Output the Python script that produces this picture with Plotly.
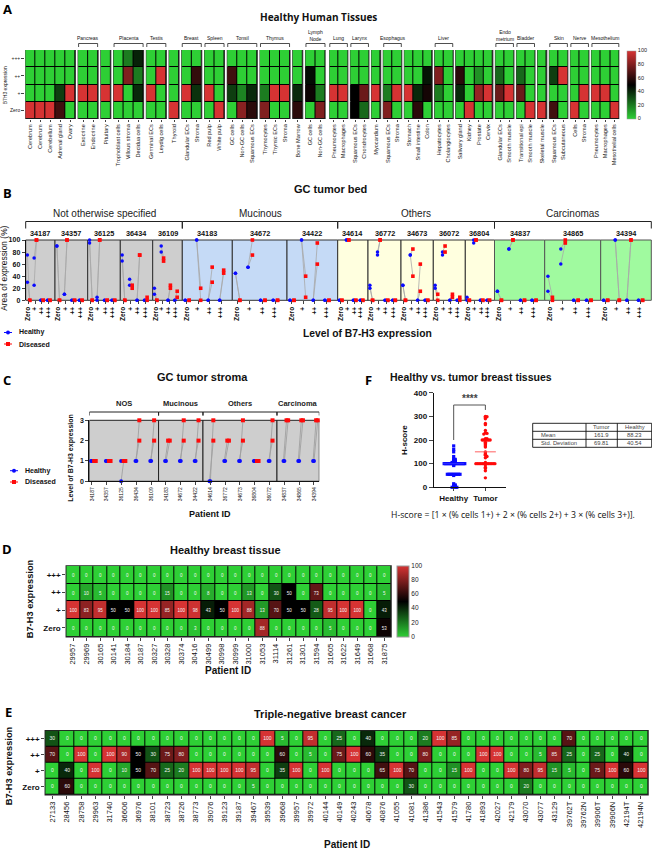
"""B7-H3 expression figure, panels A to F"""
import plotly.graph_objects as go

W, H = 652, 850
SANS = "Liberation Sans"
TITLE_FONT = "Open Sans"
GREEN, RED = "#2ecf35", "#d63333"
BLUE_PT, RED_PT = "#0a0aff", "#ff0a0a"
COLORSCALE = [[0, GREEN], [0.5, "#000000"], [1, RED]]

ROW_LABELS = ["Zero", "+", "++", "+++"]

# Panel A, columns split in two blocks, every group is (bracket label, cell names)
a_left_groups = [
    ("", ["Cerebrum", "Cerebrum", "Cerebellum", "Adrenal gland", "Ovary"]),
    ("Pancreas", ["Exocrine", "Endocrine"]),
    ("", ["Pituitary"]),
    ("Placenta", ["Trophoblast cells", "Villous stroma", "Decidua cells"]),
    ("Testis", ["Germinal ECs", "Leydig cells"]),
    ("", ["Thyroid"]),
    ("Breast", ["Glandular ECs", "Stroma"]),
    ("Spleen", ["Red pulp", "White pulp"]),
    ("Tonsil", ["GC cells", "Non-GC cells", "Squamous ECs"]),
    ("Thymus", ["Thymocytes", "Thymic ECs", "Stroma"]),
    ("", ["Bone Marrow"]),
    ("Lymph<br>Node", ["GC cells", "Non-GC cells"]),
]
a_right_groups = [
    ("Lung", ["Pneumocytes", "Macrophages"]),
    ("Larynx", ["Squamous ECs", "Chondrocytes"]),
    ("", ["Myocardium"]),
    ("Esophagus", ["Squamous ECs", "Stroma"]),
    ("", ["Stomach", "Small intestine", "Colon"]),
    ("Liver", ["Hepatocytes", "Cholangiocytes"]),
    ("", ["Salivary gland", "Kidney", "Prostate", "Cervix"]),
    ("Endo<br>metrium", ["Glandular ECs", "Smooth muscle"]),
    ("Bladder", ["Transitional epi", "Smooth muscle"]),
    ("", ["Skeletal muscle"]),
    ("Skin", ["Squamous ECs", "Subcutaneous"]),
    ("Nerve", ["Cells", "Stroma"]),
    ("Mesothelium", ["Pneumocytes", "Macrophages", "Mesothelial cells"]),
]
a_left_3plus = [0, 0, 0, 0, 0, 0, 0, 0, 0, 20, 42, 0, 0, 0, 0, 0, 0, 0, 0, 0, 0, 0, 0, 0, 0, 0, 0]
a_left_2plus = [0, 0, 0, 0, 0, 0, 0, 0, 0, 80, 20, 0, 100, 0, 0, 62, 0, 0, 65, 0, 0, 0, 0, 0, 0, 47, 0]
a_left_1plus = [0, 0, 0, 35, 100, 100, 100, 100, 100, 0, 40, 100, 0, 0, 100, 38, 100, 0, 35, 18, 40, 20, 100, 100, 40, 53, 20]
a_left_zero = [100, 100, 100, 65, 0, 0, 0, 0, 0, 0, 0, 0, 0, 100, 0, 0, 0, 100, 0, 82, 60, 80, 0, 0, 60, 0, 80]
a_right_3plus = [0] * 28
a_right_2plus = [0, 0, 0, 0, 0, 0, 0, 0, 0, 45, 80, 0, 60, 0, 15, 0, 25, 0, 25, 0, 0, 35, 100, 0, 0, 0, 0, 0]
a_right_1plus = [100, 100, 50, 75, 100, 20, 100, 100, 40, 55, 20, 0, 40, 0, 85, 100, 75, 100, 75, 0, 0, 0, 0, 0, 100, 100, 100, 0]
a_right_zero = [0, 0, 50, 25, 0, 80, 0, 0, 60, 0, 0, 0, 0, 100, 0, 0, 0, 0, 0, 100, 100, 65, 0, 100, 0, 0, 0, 100]

# Panel B, two replicates per level: Zero, +, ++, +++
b_groups = [("Not otherwise specified", 5), ("Mucinous", 3), ("Others", 5), ("Carcinomas", 3)]
b_patients = ["34187", "34357", "36125", "36434", "36109", "34183", "34672", "34422",
              "34614", "36772", "34673", "36072", "36804", "34837", "34865", "34394"]
b_healthy = {
    "34187": [[75, 30], [70, 25], [0, 0], [0, 0]],
    "34357": [[90, 90], [10, 10], [0, 0], [0, 0]],
    "36125": [[100, 95], [5, 0], [0, 0], [0, 0]],
    "36434": [[75, 65], [35, 25], [0, 0], [0, 0]],
    "36109": [[20, 10], [90, 80], [0, 0], [0, 0]],
    "34183": [[0, 0], [100, 100], [0, 0], [0, 0]],
    "34672": [[45, 45], [55, 55], [0, 0], [0, 0]],
    "34422": [[0, 0], [100, 100], [0, 0], [0, 0]],
    "34614": [[0, 0], [100, 100], [0, 0], [0, 0]],
    "36772": [[25, 20], [80, 75], [0, 0], [0, 0]],
    "34673": [[25, 25], [75, 75], [0, 0], [0, 0]],
    "36072": [[25, 20], [80, 75], [0, 0], [0, 0]],
    "36804": [[5, 0], [100, 95], [0, 0], [0, 0]],
    "34837": [[15, 15], [85, 85], [0, 0], [0, 0]],
    "34865": [[40, 15], [85, 60], [0, 0], [0, 0]],
    "34394": [[0, 0], [100, 100], [0, 0], [0, 0]],
}
b_diseased = {
    "34187": [[0, 0], [100, 100], [0, 0], [0, 0]],
    "34357": [[0, 0], [100, 100], [0, 0], [0, 0]],
    "36125": [[0, 0], [100, 100], [0, 0], [0, 0]],
    "36434": [[0, 0], [25, 20], [75, 75], [5, 0]],
    "36109": [[0, 0], [70, 65], [25, 20], [15, 5]],
    "34183": [[0, 0], [20, 0], [55, 30], [50, 45]],
    "34672": [[0, 0], [100, 75], [0, 0], [0, 0]],
    "34422": [[0, 0], [40, 5], [95, 60], [0, 0]],
    "34614": [[0, 0], [100, 100], [0, 0], [0, 0]],
    "36772": [[0, 0], [100, 100], [0, 0], [0, 0]],
    "34673": [[0, 0], [85, 40], [60, 15], [0, 0]],
    "36072": [[10, 0], [90, 80], [10, 5], [5, 0]],
    "36804": [[0, 0], [100, 100], [0, 0], [0, 0]],
    "34837": [[0, 0], [100, 100], [0, 0], [0, 0]],
    "34865": [[5, 0], [100, 95], [0, 0], [0, 0]],
    "34394": [[0, 0], [0, 0], [100, 100], [0, 0]],
}

# Panel C
c_groups = [("NOS", 5), ("Mucinous", 3), ("Others", 5), ("Carcinoma", 3)]
c_patients = ["34187", "34357", "36125", "36434", "36109", "34183", "34672", "34422",
              "34614", "36772", "34673", "36804", "36072", "34837", "34865", "34394"]
c_healthy = [[1, 1], [1, 1], [0, 1], [1, 1], [1, 1], [1, 1], [1, 1], [1, 1],
             [0, 0], [1, 1], [1, 1], [1, 1], [1, 1], [1, 1], [1, 1], [1, 1]]
c_diseased = [[1, 1], [1, 1], [1, 1], [2, 3], [2, 3], [2, 2], [2, 3], [2, 3],
              [2, 3], [2, 2], [2, 3], [1, 1], [2, 3], [3, 3], [3, 3], [3, 3]]

# Panel D
d_patients = ["29957", "29969", "30165", "30141", "30184", "30187", "30327", "30328",
              "30374", "30416", "30499", "30998", "30999", "31000", "31053", "31114",
              "31261", "31301", "31594", "31605", "31622", "31649", "31668", "31875"]
d_3plus = [0] * 24
d_2plus = [0, 10, 5, 0, 0, 0, 0, 15, 0, 0, 8, 0, 0, 13, 0, 30, 50, 0, 73, 0, 0, 0, 0, 5]
d_1plus = [100, 83, 95, 50, 50, 100, 100, 85, 100, 98, 43, 50, 100, 88, 13, 70, 50, 50, 28, 95, 100, 100, 0, 43]
d_zero = [0, 0, 0, 0, 0, 0, 0, 0, 0, 3, 0, 0, 0, 0, 88, 0, 0, 0, 0, 5, 0, 0, 0, 53]

# Panel E
e_patients = ["27133", "28456", "28758", "29963", "31740", "36606", "36976", "38101",
              "38723", "38726", "38773", "39076", "39123", "39187", "39467", "39539",
              "39668", "39957", "39972", "40144", "40149", "40243", "40678", "40876",
              "41055", "41081", "41386", "41543", "41579", "41780", "41893", "42027",
              "42179", "43070", "43077", "43129", "39762T", "39762N", "39906T", "39906N",
              "42194T", "42194N"]
e_3plus = [30, 0, 0, 0, 0, 0, 0, 0, 0, 0, 0, 0, 0, 0, 0, 100, 5, 0, 95, 0, 25,
           0, 40, 0, 0, 0, 20, 100, 85, 0, 0, 0, 0, 0, 0, 0, 70, 0, 0, 0, 0, 0]
e_2plus = [70, 0, 100, 0, 100, 90, 50, 30, 75, 80, 0, 0, 0, 0, 0, 0, 60, 0, 5, 0, 75,
           100, 60, 35, 0, 0, 80, 0, 0, 0, 100, 100, 0, 0, 5, 85, 25, 0, 25, 0, 40, 0]
e_1plus = [0, 40, 0, 100, 0, 10, 50, 70, 25, 20, 100, 100, 100, 100, 95, 0, 35, 100, 0, 100, 0,
           0, 0, 65, 100, 70, 0, 0, 15, 100, 0, 0, 100, 80, 95, 15, 5, 0, 75, 100, 60, 100]
e_zero = [0, 60, 0, 0, 0, 0, 0, 0, 0, 0, 0, 0, 0, 0, 5, 0, 0, 0, 0, 0, 0,
          0, 0, 0, 0, 30, 0, 0, 0, 0, 0, 0, 0, 20, 0, 0, 0, 0, 0, 0, 0, 0]

# Panel F
f_healthy = [175, 160, 150, 130, 120, 118, 115, 112, 110, 108, 105] + [100] * 14 + [95, 92] + \
            [55] * 9 + [50, 15, 10, 8, 5, 3, 0, 0, 0]
f_tumor = [300, 298, 295, 290, 270, 265, 240, 230, 228, 225, 205, 205] + [200] * 6 + \
          [190, 185, 180, 175, 170, 150, 145, 140, 135, 130, 125, 105] + [100] * 13 + \
          [95, 85, 80, 70, 40]
f_means = [100, 150]
f_table_header = ["", "Tumor", "Healthy"]
f_table_rows = [["Mean", "161.9", "88.23"], ["Std. Deviation", "69.81", "40.54"]]

fig = go.Figure()
layout = {}
shapes = []
notes = []
n_x = 0
n_y = 0


def X(px):
    return px / W


def Y(py):
    return 1 - py / H


def new_x(x0, x1, **opts):
    global n_x
    n_x += 1
    key = "xaxis" if n_x == 1 else f"xaxis{n_x}"
    layout[key] = dict(domain=[X(x0), X(x1)], showgrid=False, zeroline=False, **opts)
    return "x" if n_x == 1 else f"x{n_x}"


def new_y(y0, y1, **opts):
    global n_y
    n_y += 1
    key = "yaxis" if n_y == 1 else f"yaxis{n_y}"
    layout[key] = dict(domain=[Y(y1), Y(y0)], showgrid=False, zeroline=False, **opts)
    return "y" if n_y == 1 else f"y{n_y}"


def set_anchor(axis_name, other):
    key = axis_name.replace("x", "xaxis").replace("y", "yaxis")
    layout[key]["anchor"] = other


def note(px, py, text, size=7, bold=False, angle=0, anchor="center", family=SANS, color="#111111", **kw):
    t = f"<b>{text}</b>" if bold else text
    notes.append(dict(x=X(px), y=Y(py), xref="paper", yref="paper", text=t, showarrow=False,
                      textangle=angle, xanchor=anchor, yanchor="middle",
                      font=dict(family=family, size=size, color=color), **kw))


def bracket(x0, x1, py, drop, xref="paper", width=1):
    if xref == "paper":
        x0, x1 = X(x0), X(x1)
    ys = [Y(py + drop), Y(py), Y(py), Y(py + drop)]
    path = f"M{x0},{ys[0]} L{x0},{ys[1]} L{x1},{ys[2]} L{x1},{ys[3]}"
    shapes.append(dict(type="path", path=path, xref=xref, yref="paper",
                       line=dict(color="#222222", width=width)))


def legend_key(px, py, label, color, symbol, family=SANS, size=7):
    shapes.append(dict(type="line", xref="paper", yref="paper", x0=X(px - 4), x1=X(px + 4),
                       y0=Y(py), y1=Y(py), line=dict(color=color, width=1)))
    r = 2
    shapes.append(dict(type=symbol, xref="paper", yref="paper", x0=X(px - r), x1=X(px + r),
                       y0=Y(py - r), y1=Y(py + r), fillcolor=color, line=dict(width=0)))
    note(px + 9, py, label, size=size, bold=True, anchor="left", family=family)


def tissue_block(groups, rows, x0, x1, y0, y1, show_y, scale):
    total = 0
    starts = []
    gap = 0.27
    for _, cols in groups:
        starts.append(total)
        total += len(cols) + gap
    total -= gap
    tickvals = []
    ticktext = []
    for s, (_, cols) in zip(starts, groups):
        for k, c in enumerate(cols):
            tickvals.append(s + k)
            ticktext.append(c)
    xa = new_x(x0, x1, range=[-0.5, total - 0.5], tickmode="array", tickvals=tickvals, ticktext=ticktext,
               tickangle=-90, tickfont=dict(size=5.6, family=SANS, color="#222222"), ticks="outside",
               ticklen=2, tickwidth=0.7, showline=False)
    ya = new_y(y0, y1, range=[-0.5, 3.5], tickmode="array", tickvals=[0, 1, 2, 3], ticktext=ROW_LABELS,
               tickfont=dict(size=5, family=SANS, color="#222222"),
               ticks="outside" if show_y else "", ticklen=3, tickwidth=0.7,
               showticklabels=show_y, showline=False)
    set_anchor(xa, ya)
    set_anchor(ya, xa)
    unit = (x1 - x0) / total
    idx = 0
    for s, (label, cols) in zip(starts, groups):
        n = len(cols)
        shapes.append(dict(type="rect", layer="below", xref=xa, yref=ya, x0=s - 0.5, x1=s + n - 0.5,
                           y0=-0.5, y1=3.5, fillcolor="#000000", line=dict(color="#333333", width=1)))
        z = [r[idx:idx + n] for r in rows]
        show = scale and idx == 0
        fig.add_trace(go.Heatmap(z=z, x0=s, dx=1, y0=0, dy=1, xaxis=xa, yaxis=ya, zmin=0, zmax=100,
                                 colorscale=COLORSCALE, xgap=1, ygap=1, showscale=bool(show),
                                 colorbar=dict(x=X(627.3), xanchor="left", xpad=0, y=Y(118.5), yanchor="bottom",
                                               ypad=0, len=68, lenmode="pixels", thickness=9,
                                               thicknessmode="pixels", tickvals=[0, 20, 40, 60, 80, 100],
                                               ticks="", outlinecolor="#999999", outlinewidth=0.5,
                                               tickfont=dict(size=5.5, family=SANS, color="#222222"))))
        if label:
            left = x0 + s * unit
            right = x0 + (s + n) * unit
            bracket(left + 0.5, right - 0.5, 43.5, 3.5, width=0.8)
            note((left + right) / 2, 38 if "<br>" not in label else 35.5, label, size=5)
        idx += n


def value_heatmap(patients, rows, x0, x1, y0, y1, tick_size, text_size, scale):
    xa = new_x(x0, x1, tickmode="array", tickvals=list(range(len(patients))), ticktext=patients,
               tickangle=-90, tickfont=dict(size=tick_size, family=SANS, color="#111111"),
               ticks="outside", ticklen=3, tickwidth=1, range=[-0.5, len(patients) - 0.5], showline=False)
    ya = new_y(y0, y1, range=[-0.5, 3.5], tickmode="array", tickvals=[0, 1, 2, 3],
               ticktext=[f"<b>{r}</b>" for r in ROW_LABELS], ticks="outside", ticklen=3, tickwidth=1,
               tickfont=dict(size=8, family=SANS, color="#111111"), showline=False)
    set_anchor(xa, ya)
    set_anchor(ya, xa)
    shapes.append(dict(type="rect", layer="below", xref=f"{xa} domain", yref=f"{ya} domain",
                       x0=0, x1=1, y0=0, y1=1, fillcolor="#000000", line=dict(color="#222222", width=1.5)))
    bar = dict(x=X(396.7), xanchor="left", xpad=0, y=Y(636.5), yanchor="bottom", ypad=0, len=70.5,
               lenmode="pixels", thickness=12, thicknessmode="pixels", tickvals=[0, 20, 40, 60, 80, 100],
               ticks="", outlinecolor="#999999", outlinewidth=1,
               tickfont=dict(size=6.5, family=SANS, color="#222222"))
    fig.add_trace(go.Heatmap(z=rows, x0=0, dx=1, y0=0, dy=1, xaxis=xa, yaxis=ya, zmin=0, zmax=100,
                             colorscale=COLORSCALE, xgap=1, ygap=1, showscale=scale, colorbar=bar,
                             texttemplate="%{z}", textfont=dict(size=text_size, family=SANS, color="#f4f4f4")))


# --- A
tissue_block(a_left_groups, [a_left_zero, a_left_1plus, a_left_2plus, a_left_3plus],
             25.3, 325.5, 50, 119, True, False)
tissue_block(a_right_groups, [a_right_zero, a_right_1plus, a_right_2plus, a_right_3plus],
             329.3, 619.3, 50, 119, False, True)
note(5.3, 85, "B7H3 expression", size=5, angle=-90)
note(318, 17, "Healthy Human Tissues", size=10, bold=True, family=TITLE_FONT)
note(7, 9, "A", size=13, bold=True, family=TITLE_FONT, color="#000000")

# --- B
note(7, 193, "B", size=13, bold=True, family=TITLE_FONT, color="#000000")
note(331, 189, "GC tumor bed", size=11, bold=True)
b_edges = [25.7, 55, 87.7, 120.3, 152.7, 182.3, 232.3, 287, 337.7, 368, 401, 433.3, 465.3, 494.5, 544.7, 600.7, 651.3]
b_colors = ["#cecece"] * 5 + ["#c5daf6"] * 3 + ["#ffffdf"] * 5 + ["#a0fa9f"] * 3
b_y = None
for i, pid in enumerate(b_patients):
    xa = new_x(b_edges[i], b_edges[i + 1], range=[-0.4, 3.95], tickmode="array", tickvals=[0, 1, 2, 3],
               ticktext=[f"<b>{r}</b>" for r in ROW_LABELS], tickangle=-90, ticks="outside", ticklen=3,
               tickwidth=1, tickfont=dict(size=6.5, family=SANS, color="#111111"), showline=False)
    if b_y is None:
        b_y = new_y(240, 300.3, range=[0, 100], tickmode="array", tickvals=[0, 20, 40, 60, 80, 100],
                    ticktext=[f"<b>{v}</b>" for v in [0, 20, 40, 60, 80, 100]], ticks="outside", ticklen=3,
                    tickwidth=1, tickfont=dict(size=7, family=SANS, color="#111111"),
                    showline=True, linecolor="#111111", linewidth=1)
        set_anchor(b_y, xa)
    set_anchor(xa, b_y)
    edge = "#333333" if i < 13 else "#555555"
    shapes.append(dict(type="rect", layer="below", xref=f"{xa} domain", yref=f"{b_y} domain", x0=0, x1=1,
                       y0=0, y1=1, fillcolor=b_colors[i], line=dict(color=edge, width=1)))
    hx, hy, dx_, dy_, lx, ly = [], [], [], [], [], []
    for lev in range(4):
        for a, b in zip(b_healthy[pid][lev], b_diseased[pid][lev]):
            hx.append(lev - 0.15)
            hy.append(a)
            dx_.append(lev + 0.2)
            dy_.append(b)
            lx += [lev - 0.15, lev + 0.2, None]
            ly += [a, b, None]
    fig.add_trace(go.Scatter(x=lx, y=ly, xaxis=xa, yaxis=b_y, mode="lines", cliponaxis=False,
                             line=dict(color="#a8a8a8", width=0.8), showlegend=False))
    fig.add_trace(go.Scatter(x=hx, y=hy, xaxis=xa, yaxis=b_y, mode="markers", cliponaxis=False,
                             marker=dict(color=BLUE_PT, size=3.5, symbol="circle"), showlegend=False))
    fig.add_trace(go.Scatter(x=dx_, y=dy_, xaxis=xa, yaxis=b_y, mode="markers", cliponaxis=False,
                             marker=dict(color=RED_PT, size=3.6, symbol="square"), showlegend=False))
    note((b_edges[i] + b_edges[i + 1]) / 2, 233.5, pid, size=7.3, bold=True)
k = 0
for label, n in b_groups:
    left, right = b_edges[k], b_edges[k + n]
    bracket(left, right, 221.5, 7)
    note((left + right) / 2, 214, label, size=10, color="#222222")
    k += n
note(3.8, 268, "Area of expression (%)", size=8.4, angle=-90)
note(367, 333.5, "Level of B7-H3 expression", size=10.3, bold=True)
legend_key(8, 332.5, "Healthy", BLUE_PT, "circle")
legend_key(8, 344, "Diseased", RED_PT, "rect")

# --- C
note(7, 380, "C", size=13, bold=True, family=TITLE_FONT, color="#000000")
note(202, 377, "GC tumor stroma", size=11, bold=True)
c_x = new_x(89.3, 319.3, range=[-0.18, 15.36], tickmode="array", tickvals=list(range(16)), ticktext=c_patients,
            tickangle=-90, ticks="outside", ticklen=3, tickwidth=1,
            tickfont=dict(size=5, family=SANS, color="#111111"), showline=True, linecolor="#111111")
c_y = new_y(420.3, 481.3, range=[0, 3], tickmode="array", tickvals=[0, 1, 2, 3],
            ticktext=[f"<b>{v}</b>" for v in range(4)], ticks="outside", ticklen=3, tickwidth=1,
            tickfont=dict(size=7, family=SANS, color="#111111"), showline=True, linecolor="#111111")
set_anchor(c_x, c_y)
set_anchor(c_y, c_x)
start = -0.18
k = 0
for j, (label, n) in enumerate(c_groups):
    k += n
    end = 15.36 if j == len(c_groups) - 1 else k - 0.5
    shapes.append(dict(type="rect", layer="below", xref=c_x, yref=f"{c_y} domain", x0=start, x1=end, y0=0, y1=1,
                       fillcolor="#cecece", line=dict(color="#222222", width=1)))
    bracket(start, end, 412, 3.5, xref=c_x)
    notes.append(dict(x=(start + end) / 2, y=Y(403.5), xref=c_x, yref="paper", text=f"<b>{label}</b>",
                      showarrow=False, font=dict(size=7.5, family=SANS, color="#222222")))
    start = end
hx, hy, dx_, dy_, lx, ly = [], [], [], [], [], []
for i in range(16):
    for r in range(2):
        sign = -1 if r == 0 else 1
        h = i - 0.03 + (0.03 * sign if c_healthy[i][0] == c_healthy[i][1] else 0)
        d = i + 0.2 + (0.055 * sign if c_diseased[i][0] == c_diseased[i][1] else 0)
        hx.append(h)
        hy.append(c_healthy[i][r])
        dx_.append(d)
        dy_.append(c_diseased[i][r])
        lx += [h, d, None]
        ly += [c_healthy[i][r], c_diseased[i][r], None]
fig.add_trace(go.Scatter(x=lx, y=ly, xaxis=c_x, yaxis=c_y, mode="lines", cliponaxis=False,
                         line=dict(color="#a0a0a0", width=0.9), showlegend=False))
fig.add_trace(go.Scatter(x=hx, y=hy, xaxis=c_x, yaxis=c_y, mode="markers", cliponaxis=False,
                         marker=dict(color=BLUE_PT, size=4, symbol="circle"), showlegend=False))
fig.add_trace(go.Scatter(x=dx_, y=dy_, xaxis=c_x, yaxis=c_y, mode="markers", cliponaxis=False,
                         marker=dict(color=RED_PT, size=4, symbol="square"), showlegend=False))
note(71, 457.7, "Level of B7-H3 expression", size=7, bold=True, angle=-90)
note(210, 514, "Patient ID", size=9, bold=True)
legend_key(14, 470.7, "Healthy", BLUE_PT, "circle")
legend_key(14, 482, "Diseased", RED_PT, "rect")

# --- D
note(7, 549, "D", size=13, bold=True, family=TITLE_FONT, color="#000000")
note(225, 550, "Healthy breast tissue", size=11, bold=True)
value_heatmap(d_patients, [d_zero, d_1plus, d_2plus, d_3plus], 66.3, 391, 566, 636.7, 7.5, 4.5, True)
note(30, 599.3, "B7-H3 expression", size=9.3, bold=True, angle=-90)
note(228, 670.7, "Patient ID", size=10, bold=True)

# --- E
note(8, 712, "E", size=13, bold=True, family=TITLE_FONT, color="#000000")
note(330, 714, "Triple-negative breast cancer", size=11, bold=True)
value_heatmap(e_patients, [e_zero, e_1plus, e_2plus, e_3plus], 45.3, 648, 730.7, 794.7, 7.5, 5, False)
note(9.3, 766, "B7-H3 expression", size=9.3, bold=True, angle=-90)
note(347, 844, "Patient ID", size=10, bold=True)


# --- F
def swarm(values, base, step=0.05, bin_size=6):
    bins = {}
    for v in values:
        bins.setdefault(round(v / bin_size), []).append(v)
    xs, ys = [], []
    for members in bins.values():
        for j, v in enumerate(members):
            off = (j + 1) // 2 * step * (1 if j % 2 else -1)
            xs.append(base + off)
            ys.append(v)
    return xs, ys


note(369, 380, "F", size=13, bold=True, family=TITLE_FONT, color="#000000")
note(470.5, 377, "Healthy vs. tumor breast tissues", size=10.5, bold=True)
f_x = new_x(433.7, 506, range=[-0.63, 1.65], tickmode="array", tickvals=[0, 1],
            ticktext=["<b>Healthy</b>", "<b>Tumor</b>"], ticks="outside", ticklen=3, tickwidth=1,
            tickfont=dict(size=8, family=SANS, color="#111111"), showline=True, linecolor="#111111")
f_y = new_y(392.7, 487.3, range=[0, 400], tickmode="array", tickvals=[0, 100, 200, 300, 400],
            ticktext=[f"<b>{v}</b>" for v in [0, 100, 200, 300, 400]], ticks="outside", ticklen=4, tickwidth=1,
            tickfont=dict(size=8, family=SANS, color="#111111"), showline=True, linecolor="#111111")
set_anchor(f_x, f_y)
set_anchor(f_y, f_x)
xs, ys = swarm(f_healthy, 0)
fig.add_trace(go.Scatter(x=xs, y=ys, xaxis=f_x, yaxis=f_y, mode="markers", cliponaxis=False,
                         marker=dict(color=BLUE_PT, size=3.2, symbol="square"), showlegend=False))
xs, ys = swarm(f_tumor, 1)
fig.add_trace(go.Scatter(x=xs, y=ys, xaxis=f_x, yaxis=f_y, mode="markers", cliponaxis=False,
                         marker=dict(color=RED_PT, size=3.4, symbol="circle"), showlegend=False))
for pos, m, col in zip([0, 1], f_means, ["#3030ff", "#ff6060"]):
    fig.add_trace(go.Scatter(x=[pos - 0.33, pos + 0.33], y=[m, m], xaxis=f_x, yaxis=f_y, mode="lines",
                             line=dict(color=col, width=1), showlegend=False))
fig.add_trace(go.Scatter(x=[0, 0, 1, 1], y=[200, 348, 348, 327], xaxis=f_x, yaxis=f_y, mode="lines",
                         cliponaxis=False, line=dict(color="#555555", width=1), showlegend=False))
notes.append(dict(x=0.5, y=374, xref=f_x, yref=f_y, text="<b>****</b>", showarrow=False,
                  font=dict(size=10, family=SANS, color="#444444")))
note(404, 440, "H-score", size=8, bold=True, angle=-90)

# small stats table beside panel F
table_cols = [532.7, 586, 617.3, 651.7]
table_rows = [423.3, 431.3, 439.3, 447.3]
for c_px in table_cols:
    shapes.append(dict(type="line", xref="paper", yref="paper", x0=X(c_px), x1=X(c_px), y0=Y(table_rows[0]),
                       y1=Y(table_rows[-1]), line=dict(color="#111111", width=0.9)))
for r_px in table_rows:
    shapes.append(dict(type="line", xref="paper", yref="paper", x0=X(table_cols[0]), x1=X(table_cols[-1]),
                       y0=Y(r_px), y1=Y(r_px), line=dict(color="#111111", width=0.9)))
for col, head in enumerate(f_table_header):
    if head:
        note((table_cols[col] + table_cols[col + 1]) / 2, table_rows[0] + 4, head, size=5.8, color="#444444")
for row, cells in enumerate(f_table_rows):
    py = table_rows[row + 1] + 4
    note(table_cols[0] + 6, py, cells[0], size=5.8, anchor="left", color="#444444")
    note((table_cols[1] + table_cols[2]) / 2, py, cells[1], size=5.8, color="#444444")
    note((table_cols[2] + table_cols[3]) / 2, py, cells[2], size=5.8, color="#444444")

note(513, 514.7, "H-score = [1 × (% cells 1+) + 2 × (% cells 2+) + 3 × (% cells 3+)].", size=8.7, family=TITLE_FONT)

fig.update_layout(
    width=W, height=H, margin=dict(l=0, r=0, t=0, b=0), autosize=False, template="none",
    paper_bgcolor="white", plot_bgcolor="rgba(0,0,0,0)", showlegend=False,
    font=dict(family=SANS), shapes=shapes, annotations=notes, **layout,
)
fig.write_html("out.html", config={"displayModeBar": False},
               post_script="document.body.style.margin='0';")
